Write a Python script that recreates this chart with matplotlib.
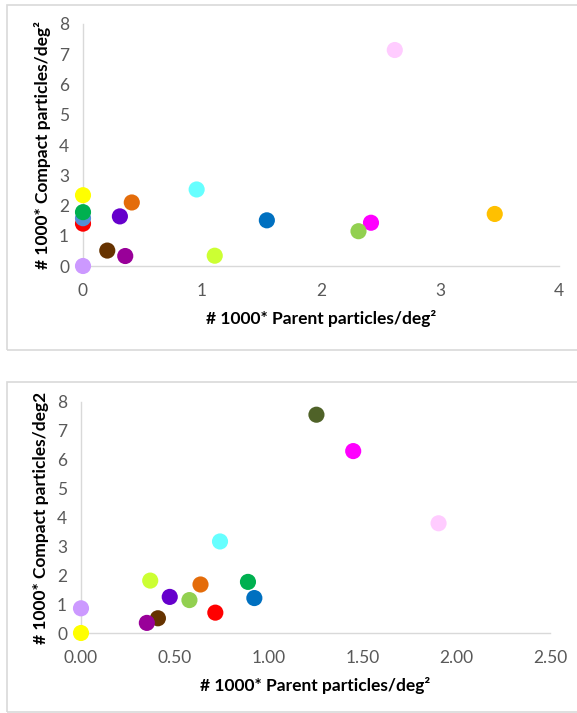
import matplotlib.pyplot as plt
from matplotlib.patches import Rectangle

plt.rcParams['font.family'] = ['Lato', 'DejaVu Sans']

# верхний график
top_x = [0, 0, 0, 0, 0.31, 0.41, 0.955, 1.545, 2.42, 2.315, 3.46, 0.204, 0.355, 1.107, 0, 2.62]
top_y = [2.34, 1.40, 1.58, 1.78, 1.64, 2.10, 2.53, 1.51, 1.43, 1.15, 1.72, 0.51, 0.33, 0.34, 0, 7.14]
top_colors = ['#FFFF00', '#FF0000', '#558ED5', '#00B050', '#6600CC', '#E46C0A', '#66FFFF',
              '#0070C0', '#FF00FF', '#92D050', '#FFC000', '#663300', '#990099', '#CCFF33',
              '#CC99FF', '#FFCCFF']

# нижний график
bot_x = [1.255, 1.451, 1.906, 0.741, 0.369, 0.637, 0.890, 0.473, 0.578, 0.924, 0.716, 0.41, 0.351, 0, 0]
bot_y = [7.56, 6.30, 3.80, 3.17, 1.815, 1.68, 1.77, 1.25, 1.14, 1.21, 0.705, 0.51, 0.35, 0.855, 0]
bot_colors = ['#4F6228', '#FF00FF', '#FFCCFF', '#66FFFF', '#CCFF33', '#E46C0A', '#00B050',
              '#6600CC', '#92D050', '#0070C0', '#FF0000', '#663300', '#990099', '#CC99FF',
              '#FFFF00']

top_xticks = [0, 1, 2, 3, 4]
bot_xticks = [0, 0.5, 1.0, 1.5, 2.0, 2.5]
bot_xticklabels = ['0.00', '0.50', '1.00', '1.50', '2.00', '2.50']
yticks = list(range(9))

fig = plt.figure(figsize=(5.77, 7.13), dpi=100)

# рамки панелей
fig.patches.append(Rectangle((7 / 577, 1 - 350 / 713), 0.99, 345 / 713, transform=fig.transFigure,
                             fill=False, edgecolor='#D9D9D9', linewidth=1.2))
fig.patches.append(Rectangle((7 / 577, 1 - 712 / 713), 0.99, 330 / 713, transform=fig.transFigure,
                             fill=False, edgecolor='#D9D9D9', linewidth=1.2))

ax1 = fig.add_axes([83 / 577, 1 - 266 / 713, 476 / 577, 242 / 713])
ax2 = fig.add_axes([81 / 577, 1 - 633 / 713, 469 / 577, 231 / 713])


def style(ax):
    for s in ['top', 'right']:
        ax.spines[s].set_visible(False)
    for s in ['left', 'bottom']:
        ax.spines[s].set_color('#D9D9D9')
        ax.spines[s].set_linewidth(1)
    ax.tick_params(length=0, labelsize=12.5, labelcolor='#595959')
    ax.tick_params(axis='x', pad=12)
    ax.tick_params(axis='y', pad=10)
    ax.set_yticks(yticks)
    ax.set_ylim(0, 8)


ax1.scatter(top_x, top_y, s=135, c=top_colors, linewidths=0, clip_on=False, zorder=3)
ax1.set_xlim(0, 4)
ax1.set_xticks(top_xticks)
style(ax1)
ax1.set_xlabel('# 1000* Parent particles/deg²', fontsize=12.5, fontweight='bold', labelpad=8)
ax1.set_ylabel('# 1000* Compact particles/deg²', fontsize=12.5, fontweight='bold', labelpad=6)

ax2.scatter(bot_x, bot_y, s=135, c=bot_colors, linewidths=0, clip_on=False, zorder=3)
ax2.set_xlim(0, 2.5)
ax2.set_xticks(bot_xticks)
ax2.set_xticklabels(bot_xticklabels)
style(ax2)
ax2.set_xlabel('# 1000* Parent particles/deg²', fontsize=12.5, fontweight='bold', labelpad=8)
ax2.set_ylabel('# 1000* Compact particles/deg2', fontsize=12.5, fontweight='bold', labelpad=6)

fig.savefig('out.png', dpi=100)
